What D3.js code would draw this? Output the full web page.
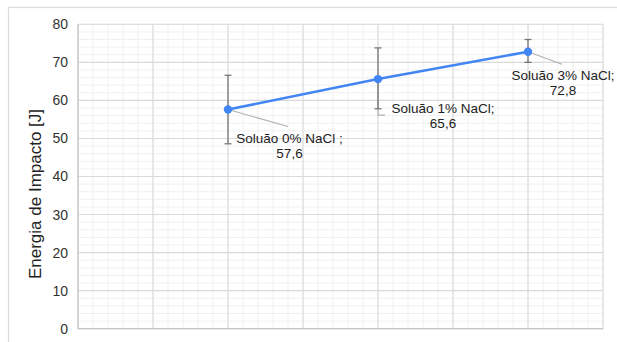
<!DOCTYPE html>
<html>
<head>
<meta charset="utf-8">
<script src="https://cdn.jsdelivr.net/npm/d3@7"></script>
<style>
  html, body { margin: 0; padding: 0; background: #fff; }
  svg { display: block; font-family: "Liberation Sans", Arial, sans-serif; }
</style>
</head>
<body>
<svg id="chart" width="617" height="342"></svg>
<script>
// Impact energy per NaCl solution, with error bars
const categories = ["Soluão 0% NaCl ;", "Soluão 1% NaCl;", "Soluão 3% NaCl;"];
const xPositions = [2, 4, 6];
const energy = [57.6, 65.6, 72.8];
const errorUp = [9.0, 8.2, 3.2];
const errorDown = [9.0, 7.8, 2.8];
const valueLabels = ["57,6", "65,6", "72,8"];
const yTicks = [0, 10, 20, 30, 40, 50, 60, 70, 80];
const yTitle = "Energia de Impacto [J]";

const svg = d3.select("#chart");
const W = 617, H = 342;
const plot = { left: 78, right: 603, top: 24.3, bottom: 328.7 };

const x = d3.scaleLinear().domain([0, 7]).range([plot.left, plot.right]);
const y = d3.scaleLinear().domain([0, 80]).range([plot.bottom, plot.top]);

// outer chart frame
svg.append("rect")
  .attr("x", 8.5).attr("y", 7.5)
  .attr("width", W).attr("height", H)
  .attr("fill", "none").attr("stroke", "#dcdcdc").attr("stroke-width", 1.2);

// minor grid
const g = svg.append("g");
const minorX = d3.range(0, 7.0001, 0.2);
const minorY = d3.range(0, 80.0001, 2);
g.selectAll(".mx").data(minorX).join("line")
  .attr("x1", d => x(d)).attr("x2", d => x(d))
  .attr("y1", plot.top).attr("y2", plot.bottom)
  .attr("stroke", "#f0f0f0").attr("stroke-width", 1);
g.selectAll(".my").data(minorY).join("line")
  .attr("y1", d => y(d)).attr("y2", d => y(d))
  .attr("x1", plot.left).attr("x2", plot.right)
  .attr("stroke", "#f0f0f0").attr("stroke-width", 1);

// major grid
g.selectAll(".Mx").data(d3.range(0, 8)).join("line")
  .attr("x1", d => x(d)).attr("x2", d => x(d))
  .attr("y1", plot.top).attr("y2", plot.bottom)
  .attr("stroke", "#dadada").attr("stroke-width", 1.1);
g.selectAll(".My").data(yTicks).join("line")
  .attr("y1", d => y(d)).attr("y2", d => y(d))
  .attr("x1", plot.left).attr("x2", plot.right)
  .attr("stroke", "#dadada").attr("stroke-width", 1.1);

// axes baselines
svg.append("line")
  .attr("x1", plot.left).attr("x2", plot.right)
  .attr("y1", y(0)).attr("y2", y(0))
  .attr("stroke", "#c6c6c6").attr("stroke-width", 1.2);
svg.append("line")
  .attr("x1", plot.left).attr("x2", plot.left)
  .attr("y1", plot.top).attr("y2", plot.bottom)
  .attr("stroke", "#c6c6c6").attr("stroke-width", 1.2);

// y axis labels
const yAxis = d3.axisLeft(y).tickValues(yTicks).tickSize(0).tickPadding(10);
const ya = svg.append("g").attr("transform", `translate(${plot.left},0)`).call(yAxis);
ya.select(".domain").remove();
ya.selectAll("text")
  .attr("font-size", 14).attr("fill", "#333")
  .attr("font-family", "Liberation Sans, Arial, sans-serif");

// y axis title
svg.append("text")
  .attr("transform", `translate(41,194) rotate(-90)`)
  .attr("text-anchor", "middle")
  .attr("font-size", 17).attr("fill", "#222")
  .text(yTitle);

const data = categories.map((c, i) => ({
  c, xv: xPositions[i], v: energy[i], up: errorUp[i], dn: errorDown[i], lab: valueLabels[i]
}));

// leader lines from points to labels
const leaders = [
  [[0, 0], [60, 17]],
  [[0, 0], [0, 36], [7, 36]],
  [[0, 0], [34, 12.5]]
];
data.forEach((d, i) => {
  const px = x(d.xv), py = y(d.v);
  svg.append("path")
    .attr("d", d3.line()(leaders[i].map(p => [px + p[0], py + p[1]])))
    .attr("fill", "none").attr("stroke", "#b0b0b0").attr("stroke-width", 1.1);
});

// error bars
const eb = svg.append("g").attr("stroke", "#777").attr("stroke-width", 1.3);
data.forEach(d => {
  const px = x(d.xv);
  eb.append("line").attr("x1", px).attr("x2", px)
    .attr("y1", y(d.v + d.up)).attr("y2", y(d.v - d.dn));
  [d.v + d.up, d.v - d.dn].forEach(v => {
    eb.append("line").attr("x1", px - 3.5).attr("x2", px + 3.5)
      .attr("y1", y(v)).attr("y2", y(v));
  });
});

// series line and points
svg.append("path")
  .datum(data)
  .attr("d", d3.line().x(d => x(d.xv)).y(d => y(d.v)))
  .attr("fill", "none").attr("stroke", "#4285f4").attr("stroke-width", 2.6);
svg.selectAll(".pt").data(data).join("circle")
  .attr("cx", d => x(d.xv)).attr("cy", d => y(d.v)).attr("r", 4.2)
  .attr("fill", "#4285f4");

// data labels (two lines, centered)
const labelOffsets = [[61.5, 33], [65, 33.5], [35, 28.5]];
data.forEach((d, i) => {
  const cx = x(d.xv) + labelOffsets[i][0];
  const by = y(d.v) + labelOffsets[i][1];
  const t = svg.append("text")
    .attr("text-anchor", "middle")
    .attr("font-size", 13.5).attr("fill", "#222");
  t.append("tspan").attr("x", cx).attr("y", by).text(d.c);
  t.append("tspan").attr("x", cx).attr("y", by + 15.3).text(d.lab);
});
</script>
</body>
</html>
